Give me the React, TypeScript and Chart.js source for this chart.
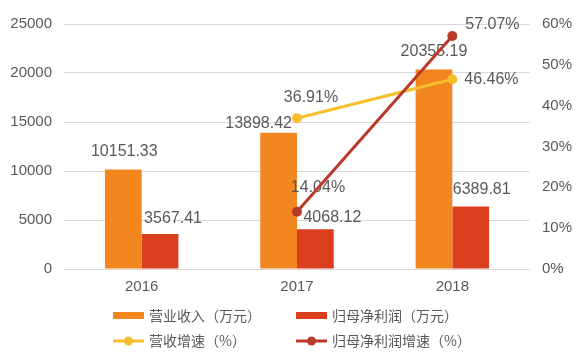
import React, { useEffect, useRef } from 'react';
import { Chart, registerables } from 'chart.js';

Chart.register(...registerables);

const years = ['2016', '2017', '2018'];
const revenue = [10151.33, 13898.42, 20355.19];
const netProfit = [3567.41, 4068.12, 6389.81];
const revenueGrowth: (number | null)[] = [null, 36.91, 46.46];
const profitGrowth: (number | null)[] = [null, 14.04, 57.07];
const leftAxis = { min: 0, max: 25000, step: 5000 };
const rightAxis = { min: 0, max: 60, step: 10 };
const seriesNames = ['营业收入（万元）', '归母净利润（万元）', '营收增速（%）', '归母净利润增速（%）'];

const COLORS = {
  revenue: '#F2861F',
  profit: '#DB3F1D',
  revGrowth: '#F6BE2C',
  profGrowth: '#B9392A',
  text: '#595959',
  grid: '#D9D9D9',
};

const NUM_FONT = "'Liberation Sans', Arial, sans-serif";
const CJK_FONT = "'Noto Sans CJK SC', 'Noto Sans', sans-serif";

// label placement tweaks (style only): [dx, dy, align]
const barLabelShift: [number, number][][] = [
  [[1, -18], [-20, -9], [0, -18]],
  [[13, -15], [17, -12], [11, -17]],
];
const lineLabelShift: ([number, number, CanvasTextAlign] | null)[][] = [
  [null, [14, -21, 'center'], [12, 0, 'left']],
  [null, [21, -24, 'center'], [13, -11, 'left']],
];

function drawLabels(chart: any) {
  const ctx = chart.ctx;
  ctx.save();
  ctx.font = `16px ${NUM_FONT}`;
  ctx.fillStyle = COLORS.text;
  ctx.textBaseline = 'middle';
  [0, 1].forEach((di) => {
    const meta = chart.getDatasetMeta(di);
    const data = chart.data.datasets[di].data as number[];
    meta.data.forEach((el: any, i: number) => {
      const [dx, dy] = barLabelShift[di][i];
      ctx.textAlign = 'center';
      ctx.fillText(data[i].toFixed(2), el.x + dx, el.y + dy);
    });
  });
  [2, 3].forEach((di, li) => {
    const meta = chart.getDatasetMeta(di);
    const data = chart.data.datasets[di].data as (number | null)[];
    meta.data.forEach((el: any, i: number) => {
      const v = data[i];
      const s = lineLabelShift[li][i];
      if (v == null || !s) return;
      ctx.textAlign = s[2];
      ctx.fillText(v.toFixed(2) + '%', el.x + s[0], el.y + s[1]);
    });
  });
  ctx.restore();
}

const labelPlugin = {
  id: 'valueLabels',
  afterDatasetDraw(chart: any, args: any) {
    // bars are drawn first (ds1 then ds0); draw labels before the lines
    if (args.index === 0) drawLabels(chart);
  },
};

const legendPlugin = {
  id: 'customLegend',
  afterDraw(chart: any) {
    const ctx = chart.ctx;
    const cols = [113, 296];
    const rows = [315.5, 341];
    const colors = [COLORS.revenue, COLORS.profit, COLORS.revGrowth, COLORS.profGrowth];
    ctx.save();
    ctx.font = `14px ${CJK_FONT}`;
    ctx.textBaseline = 'middle';
    ctx.textAlign = 'left';
    seriesNames.forEach((name, k) => {
      const x = cols[k % 2];
      const y = rows[Math.floor(k / 2)];
      ctx.fillStyle = colors[k];
      ctx.strokeStyle = colors[k];
      if (k < 2) {
        ctx.fillRect(x, y - 3.5, 31, 7);
      } else {
        ctx.lineWidth = 3;
        ctx.beginPath();
        ctx.moveTo(x, y);
        ctx.lineTo(x + 31, y);
        ctx.stroke();
        ctx.beginPath();
        ctx.arc(x + 15.5, y, 4.5, 0, Math.PI * 2);
        ctx.fill();
      }
      ctx.fillStyle = COLORS.text;
      ctx.fillText(name, x + 36, y);
    });
    ctx.restore();
  },
};

export default function App() {
  const ref = useRef<HTMLCanvasElement | null>(null);

  useEffect(() => {
    if (!ref.current) return;
    const chart = new Chart(ref.current, {
      type: 'bar',
      data: {
        labels: years,
        datasets: [
          {
            type: 'bar',
            label: seriesNames[0],
            data: revenue,
            backgroundColor: COLORS.revenue,
            yAxisID: 'y',
            order: 2,
            categoryPercentage: 0.473,
            barPercentage: 1,
          },
          {
            type: 'bar',
            label: seriesNames[1],
            data: netProfit,
            backgroundColor: COLORS.profit,
            yAxisID: 'y',
            order: 2,
            categoryPercentage: 0.473,
            barPercentage: 1,
          },
          {
            type: 'line',
            label: seriesNames[2],
            data: revenueGrowth,
            borderColor: COLORS.revGrowth,
            backgroundColor: COLORS.revGrowth,
            borderWidth: 3,
            pointRadius: 5,
            pointBorderWidth: 0,
            yAxisID: 'y1',
            order: 1,
            spanGaps: false,
          },
          {
            type: 'line',
            label: seriesNames[3],
            data: profitGrowth,
            borderColor: COLORS.profGrowth,
            backgroundColor: COLORS.profGrowth,
            borderWidth: 3,
            pointRadius: 5,
            pointBorderWidth: 0,
            yAxisID: 'y1',
            order: 0,
            spanGaps: false,
          },
        ] as any,
      },
      options: {
        animation: false,
        responsive: false,
        maintainAspectRatio: false,
        layout: { padding: { top: 24, bottom: 0, left: 0, right: 0 } },
        plugins: {
          legend: { display: false },
          tooltip: { enabled: false },
          title: { display: false },
        },
        scales: {
          x: {
            grid: { display: false, drawTicks: false },
            border: { display: false },
            ticks: {
              color: COLORS.text,
              font: { size: 15, family: NUM_FONT },
              padding: 9,
            },
            afterFit: (s: any) => {
              s.height = 85;
            },
          },
          y: {
            position: 'left',
            min: leftAxis.min,
            max: leftAxis.max,
            grid: { color: COLORS.grid, lineWidth: 1, drawTicks: false },
            border: { display: false },
            ticks: {
              stepSize: leftAxis.step,
              color: COLORS.text,
              font: { size: 15, family: NUM_FONT },
              padding: 12,
              callback: (v: any) => `${v}`,
            },
            afterFit: (s: any) => {
              s.width = 64;
            },
          },
          y1: {
            position: 'right',
            min: rightAxis.min,
            max: rightAxis.max,
            grid: { drawOnChartArea: false, drawTicks: false },
            border: { display: false },
            ticks: {
              stepSize: rightAxis.step,
              color: COLORS.text,
              font: { size: 15, family: NUM_FONT },
              padding: 12,
              callback: (v: any) => `${v}%`,
            },
            afterFit: (s: any) => {
              s.width = 48;
            },
          },
        },
      } as any,
      plugins: [labelPlugin, legendPlugin],
    });
    return () => chart.destroy();
  }, []);

  return (
    <div style={{ position: 'absolute', left: 0, top: 0, width: 578, height: 354, background: '#fff' }}>
      <canvas ref={ref} width={578} height={354} style={{ width: 578, height: 354, display: 'block' }} />
    </div>
  );
}
